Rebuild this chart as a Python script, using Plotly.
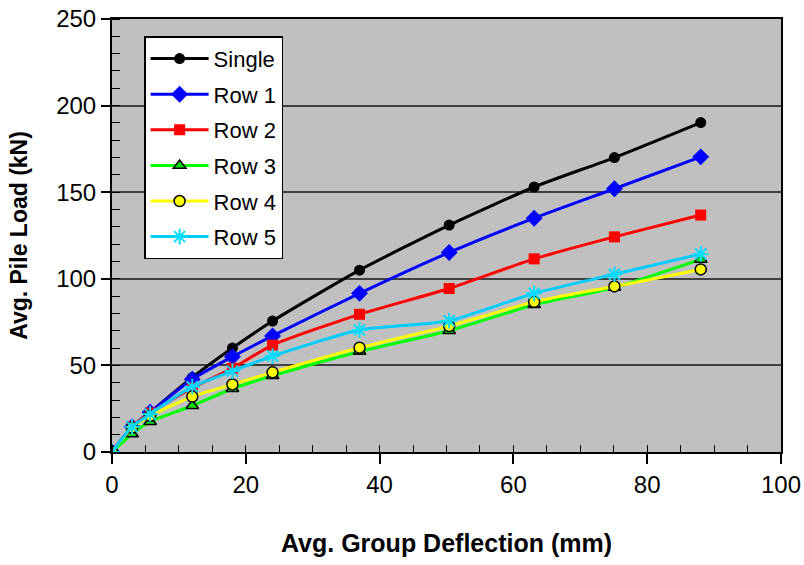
import plotly.graph_objects as go

deflection = [0, 3, 5.7, 12, 18, 24, 37, 50.4, 63.1, 75.1, 88]
single = [0, 14.6, 23, 43, 60, 75.6, 105, 131, 153, 170, 190.2]
row1 = [0, 14.6, 23, 42, 55, 67, 91.6, 115.2, 135, 152, 170.4]
row2 = [0, 14.6, 22.5, 37, 48.3, 61.7, 79.5, 94.4, 111.5, 124.2, 136.8]
row3 = [0, 10.4, 17.5, 26.7, 36.5, 44, 58, 70, 85, 95, 111.2]
row4 = [0, 14, 20.8, 32, 39, 46, 60.2, 72.7, 86.7, 95.6, 105.4]
row5 = [0, 14.6, 22, 37.7, 46.7, 55.4, 70.4, 75.8, 91.6, 102.6, 114.3]

names = ["Single", "Row 1", "Row 2", "Row 3", "Row 4", "Row 5"]
series = [single, row1, row2, row3, row4, row5]
colors = ["#000000", "#0000FF", "#FF0000", "#00FF00", "#FFFF00", "#00CCFF"]
markers = [
    dict(symbol="circle", size=11, color="#000000"),
    dict(symbol="diamond", size=13, color="#0000FF"),
    dict(symbol="square", size=11, color="#FF0000"),
    dict(symbol="triangle-up", size=11, color="#00DD00", line=dict(color="#000000", width=1.5)),
    dict(symbol="circle", size=11, color="#FFFF00", line=dict(color="#000000", width=1.5)),
    dict(symbol="asterisk-open", size=13, color="#00DDFF", line=dict(color="#00DDFF", width=2)),
]

fig = go.Figure()
for n, s, c, m in zip(names, series, colors, markers):
    fig.add_trace(go.Scatter(
        x=deflection, y=s, name=n, mode="lines+markers",
        line=dict(color=c, width=3, shape="spline", smoothing=0.6),
        marker=m, legendgroup=n,
    ))

font = "Liberation Sans, Arial, sans-serif"
fig.update_layout(
    width=804, height=565,
    margin=dict(l=112, r=23, t=19, b=113, autoexpand=False),
    paper_bgcolor="white",
    plot_bgcolor="#C0C0C0",
    font=dict(family=font, size=22, color="black"),
    legend=dict(
        x=0.048, y=0.96, xanchor="left", yanchor="top",
        bgcolor="white", bordercolor="black", borderwidth=1.5,
        font=dict(size=22), tracegroupgap=4, itemwidth=58,
    ),
    xaxis=dict(
        range=[0, 100], dtick=20, tick0=0, automargin=False,
        showgrid=False, zeroline=False,
        showline=True, linecolor="black", linewidth=2, mirror=True,
        ticks="outside", ticklen=10, tickwidth=1.5, tickcolor="black",
        minor=dict(dtick=5, ticks="inside", ticklen=7, tickwidth=1, tickcolor="black", showgrid=False),
        title=dict(text="<b>Avg. Group Deflection (mm)</b>", font=dict(size=25), standoff=38),
        tickfont=dict(size=24), ticklabeloverflow="allow",
    ),
    yaxis=dict(
        range=[0, 250], dtick=50, tick0=0, automargin=False,
        showgrid=True, gridcolor="#404040", gridwidth=1.5, zeroline=False,
        showline=True, linecolor="black", linewidth=2, mirror=True,
        ticks="outside", ticklen=9, tickwidth=1.5, tickcolor="black",
        minor=dict(dtick=10, ticks="inside", ticklen=8, tickwidth=1, tickcolor="black", showgrid=False),
        title=dict(text="<b>Avg. Pile Load (kN)</b>", font=dict(size=23), standoff=22),
        tickfont=dict(size=24), ticklabeloverflow="allow",
    ),
)

fig.write_html("out.html")
